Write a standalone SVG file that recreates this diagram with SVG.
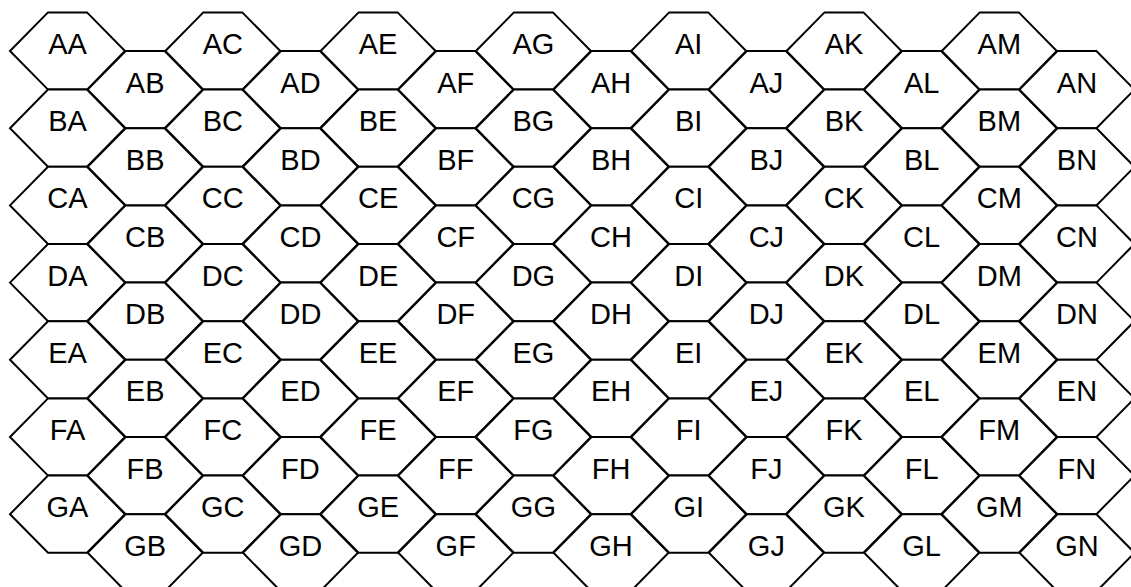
<svg xmlns="http://www.w3.org/2000/svg" xmlns:xlink="http://www.w3.org/1999/xlink" width="1131" height="587" viewBox="0 0 1131 587">
<style>
.h{fill:#fff;stroke:#000;stroke-width:2;stroke-linejoin:miter}
text{font-family:"Liberation Sans",Arial,sans-serif;font-size:29px;text-anchor:middle;fill:#000}
</style>
<defs>
<polygon id="hex" class="h" points="-57.5,0 -19.5,-38.6 19.5,-38.6 57.5,0 19.5,38.6 -19.5,38.6"/>
</defs>
<rect width="1131" height="587" fill="#fff"/>
<g id="nodes">
<g id="AA" transform="translate(67.5,51)"><use href="#hex"/><text y="3">AA</text></g>
<g id="BA" transform="translate(67.5,128.2)"><use href="#hex"/><text y="3">BA</text></g>
<g id="CA" transform="translate(67.5,205.4)"><use href="#hex"/><text y="3">CA</text></g>
<g id="DA" transform="translate(67.5,282.6)"><use href="#hex"/><text y="3">DA</text></g>
<g id="EA" transform="translate(67.5,359.8)"><use href="#hex"/><text y="3">EA</text></g>
<g id="FA" transform="translate(67.5,437)"><use href="#hex"/><text y="3">FA</text></g>
<g id="GA" transform="translate(67.5,514.2)"><use href="#hex"/><text y="3">GA</text></g>

<g id="AB" transform="translate(145.15,89.6)"><use href="#hex"/><text y="3">AB</text></g>
<g id="BB" transform="translate(145.15,166.8)"><use href="#hex"/><text y="3">BB</text></g>
<g id="CB" transform="translate(145.15,244)"><use href="#hex"/><text y="3">CB</text></g>
<g id="DB" transform="translate(145.15,321.2)"><use href="#hex"/><text y="3">DB</text></g>
<g id="EB" transform="translate(145.15,398.4)"><use href="#hex"/><text y="3">EB</text></g>
<g id="FB" transform="translate(145.15,475.6)"><use href="#hex"/><text y="3">FB</text></g>
<g id="GB" transform="translate(145.15,552.8)"><use href="#hex"/><text y="3">GB</text></g>

<g id="AC" transform="translate(222.8,51)"><use href="#hex"/><text y="3">AC</text></g>
<g id="BC" transform="translate(222.8,128.2)"><use href="#hex"/><text y="3">BC</text></g>
<g id="CC" transform="translate(222.8,205.4)"><use href="#hex"/><text y="3">CC</text></g>
<g id="DC" transform="translate(222.8,282.6)"><use href="#hex"/><text y="3">DC</text></g>
<g id="EC" transform="translate(222.8,359.8)"><use href="#hex"/><text y="3">EC</text></g>
<g id="FC" transform="translate(222.8,437)"><use href="#hex"/><text y="3">FC</text></g>
<g id="GC" transform="translate(222.8,514.2)"><use href="#hex"/><text y="3">GC</text></g>

<g id="AD" transform="translate(300.45,89.6)"><use href="#hex"/><text y="3">AD</text></g>
<g id="BD" transform="translate(300.45,166.8)"><use href="#hex"/><text y="3">BD</text></g>
<g id="CD" transform="translate(300.45,244)"><use href="#hex"/><text y="3">CD</text></g>
<g id="DD" transform="translate(300.45,321.2)"><use href="#hex"/><text y="3">DD</text></g>
<g id="ED" transform="translate(300.45,398.4)"><use href="#hex"/><text y="3">ED</text></g>
<g id="FD" transform="translate(300.45,475.6)"><use href="#hex"/><text y="3">FD</text></g>
<g id="GD" transform="translate(300.45,552.8)"><use href="#hex"/><text y="3">GD</text></g>

<g id="AE" transform="translate(378.1,51)"><use href="#hex"/><text y="3">AE</text></g>
<g id="BE" transform="translate(378.1,128.2)"><use href="#hex"/><text y="3">BE</text></g>
<g id="CE" transform="translate(378.1,205.4)"><use href="#hex"/><text y="3">CE</text></g>
<g id="DE" transform="translate(378.1,282.6)"><use href="#hex"/><text y="3">DE</text></g>
<g id="EE" transform="translate(378.1,359.8)"><use href="#hex"/><text y="3">EE</text></g>
<g id="FE" transform="translate(378.1,437)"><use href="#hex"/><text y="3">FE</text></g>
<g id="GE" transform="translate(378.1,514.2)"><use href="#hex"/><text y="3">GE</text></g>

<g id="AF" transform="translate(455.75,89.6)"><use href="#hex"/><text y="3">AF</text></g>
<g id="BF" transform="translate(455.75,166.8)"><use href="#hex"/><text y="3">BF</text></g>
<g id="CF" transform="translate(455.75,244)"><use href="#hex"/><text y="3">CF</text></g>
<g id="DF" transform="translate(455.75,321.2)"><use href="#hex"/><text y="3">DF</text></g>
<g id="EF" transform="translate(455.75,398.4)"><use href="#hex"/><text y="3">EF</text></g>
<g id="FF" transform="translate(455.75,475.6)"><use href="#hex"/><text y="3">FF</text></g>
<g id="GF" transform="translate(455.75,552.8)"><use href="#hex"/><text y="3">GF</text></g>

<g id="AG" transform="translate(533.4,51)"><use href="#hex"/><text y="3">AG</text></g>
<g id="BG" transform="translate(533.4,128.2)"><use href="#hex"/><text y="3">BG</text></g>
<g id="CG" transform="translate(533.4,205.4)"><use href="#hex"/><text y="3">CG</text></g>
<g id="DG" transform="translate(533.4,282.6)"><use href="#hex"/><text y="3">DG</text></g>
<g id="EG" transform="translate(533.4,359.8)"><use href="#hex"/><text y="3">EG</text></g>
<g id="FG" transform="translate(533.4,437)"><use href="#hex"/><text y="3">FG</text></g>
<g id="GG" transform="translate(533.4,514.2)"><use href="#hex"/><text y="3">GG</text></g>

<g id="AH" transform="translate(611.05,89.6)"><use href="#hex"/><text y="3">AH</text></g>
<g id="BH" transform="translate(611.05,166.8)"><use href="#hex"/><text y="3">BH</text></g>
<g id="CH" transform="translate(611.05,244)"><use href="#hex"/><text y="3">CH</text></g>
<g id="DH" transform="translate(611.05,321.2)"><use href="#hex"/><text y="3">DH</text></g>
<g id="EH" transform="translate(611.05,398.4)"><use href="#hex"/><text y="3">EH</text></g>
<g id="FH" transform="translate(611.05,475.6)"><use href="#hex"/><text y="3">FH</text></g>
<g id="GH" transform="translate(611.05,552.8)"><use href="#hex"/><text y="3">GH</text></g>

<g id="AI" transform="translate(688.7,51)"><use href="#hex"/><text y="3">AI</text></g>
<g id="BI" transform="translate(688.7,128.2)"><use href="#hex"/><text y="3">BI</text></g>
<g id="CI" transform="translate(688.7,205.4)"><use href="#hex"/><text y="3">CI</text></g>
<g id="DI" transform="translate(688.7,282.6)"><use href="#hex"/><text y="3">DI</text></g>
<g id="EI" transform="translate(688.7,359.8)"><use href="#hex"/><text y="3">EI</text></g>
<g id="FI" transform="translate(688.7,437)"><use href="#hex"/><text y="3">FI</text></g>
<g id="GI" transform="translate(688.7,514.2)"><use href="#hex"/><text y="3">GI</text></g>

<g id="AJ" transform="translate(766.35,89.6)"><use href="#hex"/><text y="3">AJ</text></g>
<g id="BJ" transform="translate(766.35,166.8)"><use href="#hex"/><text y="3">BJ</text></g>
<g id="CJ" transform="translate(766.35,244)"><use href="#hex"/><text y="3">CJ</text></g>
<g id="DJ" transform="translate(766.35,321.2)"><use href="#hex"/><text y="3">DJ</text></g>
<g id="EJ" transform="translate(766.35,398.4)"><use href="#hex"/><text y="3">EJ</text></g>
<g id="FJ" transform="translate(766.35,475.6)"><use href="#hex"/><text y="3">FJ</text></g>
<g id="GJ" transform="translate(766.35,552.8)"><use href="#hex"/><text y="3">GJ</text></g>

<g id="AK" transform="translate(844,51)"><use href="#hex"/><text y="3">AK</text></g>
<g id="BK" transform="translate(844,128.2)"><use href="#hex"/><text y="3">BK</text></g>
<g id="CK" transform="translate(844,205.4)"><use href="#hex"/><text y="3">CK</text></g>
<g id="DK" transform="translate(844,282.6)"><use href="#hex"/><text y="3">DK</text></g>
<g id="EK" transform="translate(844,359.8)"><use href="#hex"/><text y="3">EK</text></g>
<g id="FK" transform="translate(844,437)"><use href="#hex"/><text y="3">FK</text></g>
<g id="GK" transform="translate(844,514.2)"><use href="#hex"/><text y="3">GK</text></g>

<g id="AL" transform="translate(921.65,89.6)"><use href="#hex"/><text y="3">AL</text></g>
<g id="BL" transform="translate(921.65,166.8)"><use href="#hex"/><text y="3">BL</text></g>
<g id="CL" transform="translate(921.65,244)"><use href="#hex"/><text y="3">CL</text></g>
<g id="DL" transform="translate(921.65,321.2)"><use href="#hex"/><text y="3">DL</text></g>
<g id="EL" transform="translate(921.65,398.4)"><use href="#hex"/><text y="3">EL</text></g>
<g id="FL" transform="translate(921.65,475.6)"><use href="#hex"/><text y="3">FL</text></g>
<g id="GL" transform="translate(921.65,552.8)"><use href="#hex"/><text y="3">GL</text></g>

<g id="AM" transform="translate(999.3,51)"><use href="#hex"/><text y="3">AM</text></g>
<g id="BM" transform="translate(999.3,128.2)"><use href="#hex"/><text y="3">BM</text></g>
<g id="CM" transform="translate(999.3,205.4)"><use href="#hex"/><text y="3">CM</text></g>
<g id="DM" transform="translate(999.3,282.6)"><use href="#hex"/><text y="3">DM</text></g>
<g id="EM" transform="translate(999.3,359.8)"><use href="#hex"/><text y="3">EM</text></g>
<g id="FM" transform="translate(999.3,437)"><use href="#hex"/><text y="3">FM</text></g>
<g id="GM" transform="translate(999.3,514.2)"><use href="#hex"/><text y="3">GM</text></g>

<g id="AN" transform="translate(1076.95,89.6)"><use href="#hex"/><text y="3">AN</text></g>
<g id="BN" transform="translate(1076.95,166.8)"><use href="#hex"/><text y="3">BN</text></g>
<g id="CN" transform="translate(1076.95,244)"><use href="#hex"/><text y="3">CN</text></g>
<g id="DN" transform="translate(1076.95,321.2)"><use href="#hex"/><text y="3">DN</text></g>
<g id="EN" transform="translate(1076.95,398.4)"><use href="#hex"/><text y="3">EN</text></g>
<g id="FN" transform="translate(1076.95,475.6)"><use href="#hex"/><text y="3">FN</text></g>
<g id="GN" transform="translate(1076.95,552.8)"><use href="#hex"/><text y="3">GN</text></g>
</g>
<g id="connectors"/>
</svg>
